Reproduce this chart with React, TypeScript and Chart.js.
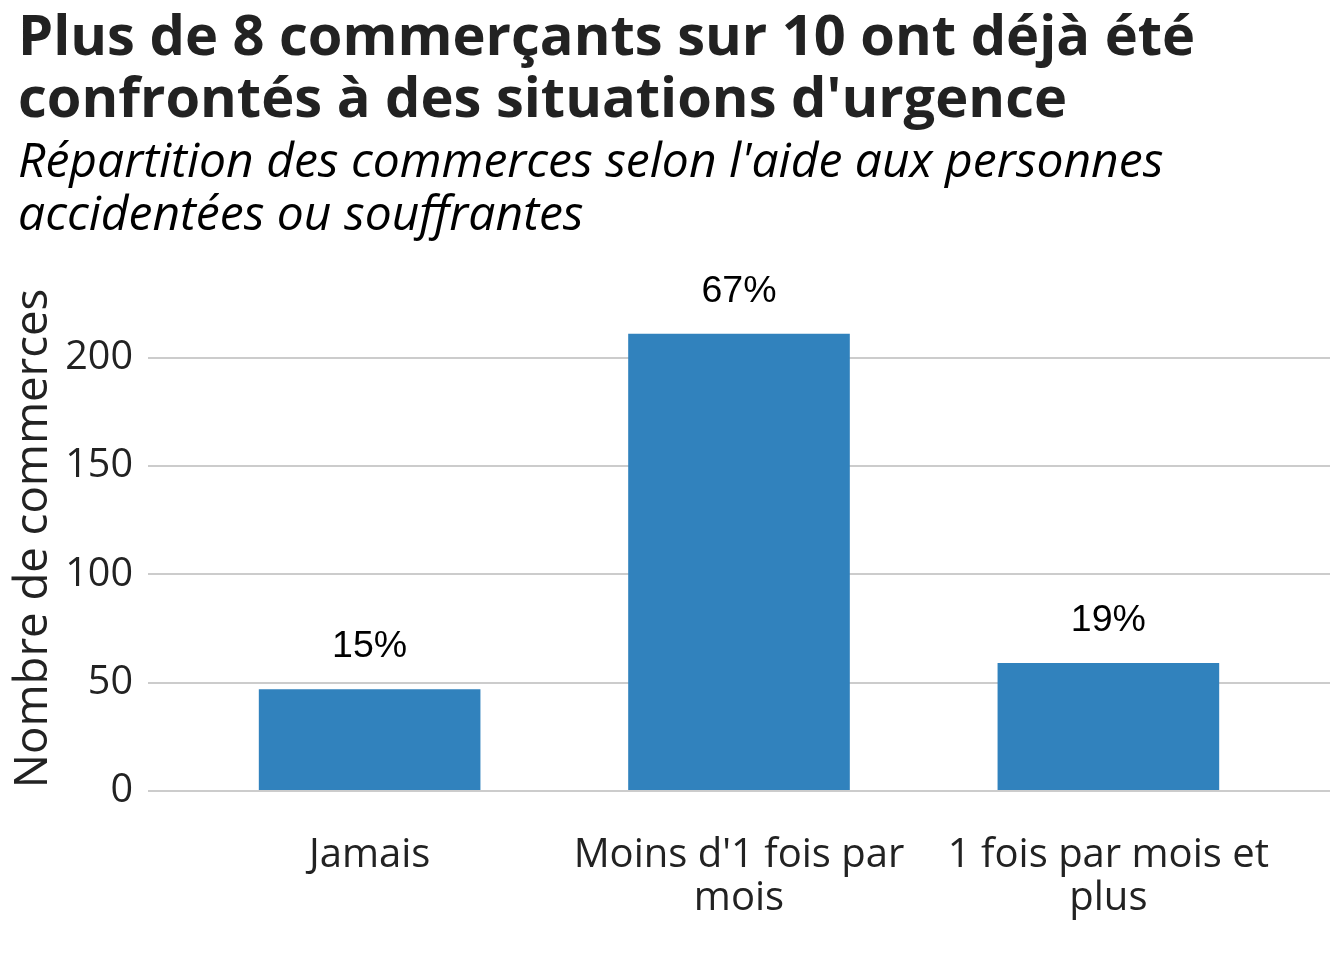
import React, { useEffect, useRef } from "react";
import { Chart, registerables } from "chart.js";

Chart.register(...registerables);

const titleLines = ["Plus de 8 commerçants sur 10 ont déjà été", "confrontés à des situations d'urgence"];
const subtitleLines = ["Répartition des commerces selon l'aide aux personnes", "accidentées ou souffrantes"];
const yAxisTitle = "Nombre de commerces";
const categories: string[][] = [["Jamais"], ["Moins d'1 fois par", "mois"], ["1 fois par mois et", "plus"]];
const xPositions = [1, 2, 3];
const values = [47, 211, 59];
const yTicks = [0, 50, 100, 150, 200];

const TEXT = "#222222";
const FAMILY = "'Open Sans', 'DejaVu Sans', sans-serif";

export default function App() {
  const ref = useRef<HTMLCanvasElement | null>(null);

  useEffect(() => {
    if (!ref.current) return;
    const total = values.reduce((a, b) => a + b, 0);
    const labelPlugin = {
      id: "barLabels",
      afterDatasetsDraw(chart: any) {
        const ctx = chart.ctx;
        const meta = chart.getDatasetMeta(0);
        ctx.save();
        ctx.font = "37.5px 'Liberation Sans', Arial, sans-serif";
        ctx.fillStyle = "#000000";
        ctx.textAlign = "center";
        ctx.textBaseline = "alphabetic";
        meta.data.forEach((bar: any, i: number) => {
          ctx.fillText(Math.round((values[i] / total) * 100) + "%", bar.x, bar.y - 32);
        });
        ctx.restore();
      },
    };

    const chart = new Chart(ref.current, {
      type: "bar",
      data: {
        datasets: [
          {
            data: values.map((v, i) => ({ x: xPositions[i], y: v })),
            backgroundColor: "#3182BD",
            borderWidth: 0,
            barPercentage: 0.6,
            categoryPercentage: 1,
          },
        ],
      },
      options: {
        animation: false,
        responsive: false,
        layout: { padding: { top: 286, right: 14, left: 0, bottom: 0 } },
        plugins: { legend: { display: false }, tooltip: { enabled: false } },
        scales: {
          x: {
            type: "linear",
            min: 0.4,
            max: 3.6,
            offset: false,
            afterBuildTicks: (s: any) => {
              s.ticks = xPositions.map((v) => ({ value: v }));
            },
            afterFit: (s: any) => {
              s.height = 169;
            },
            grid: { display: false, offset: false },
            border: { display: false },
            ticks: {
              autoSkip: false,
              maxRotation: 0,
              padding: 35,
              color: TEXT,
              font: { family: FAMILY, size: 40, lineHeight: 1.075 },
              callback: (_v: any, index: number) => categories[index] ?? "",
            },
          },
          y: {
            min: 0,
            max: 233,
            afterBuildTicks: (s: any) => {
              s.ticks = yTicks.map((v) => ({ value: v }));
            },
            afterFit: (s: any) => {
              s.width = 148;
            },
            grid: { color: "#cccccc", lineWidth: 2, drawTicks: false },
            border: { display: false },
            ticks: {
              padding: 15,
              color: TEXT,
              font: { family: FAMILY, size: 39.5 },
            },
            title: {
              display: true,
              text: yAxisTitle,
              color: TEXT,
              font: { family: FAMILY, size: 45.5, lineHeight: 1.2 },
              padding: { top: 7, bottom: 0 },
            },
          },
        },
      },
      plugins: [labelPlugin],
    } as any);
    return () => chart.destroy();
  }, []);

  return (
    <div style={{ position: "absolute", left: 0, top: 0, width: 1344, height: 960, background: "#ffffff" }}>
      <canvas ref={ref} width={1344} height={960} style={{ position: "absolute", left: 0, top: 0, width: 1344, height: 960 }} />
      <div
        style={{
          position: "absolute",
          left: 18,
          top: 2,
          fontFamily: FAMILY,
          fontWeight: 700,
          fontSize: 56,
          lineHeight: "62px",
          color: TEXT,
          whiteSpace: "nowrap",
        }}
      >
        {titleLines.map((l, i) => (
          <div key={i}>{l}</div>
        ))}
      </div>
      <div
        style={{
          position: "absolute",
          left: 18,
          top: 132,
          fontFamily: FAMILY,
          fontStyle: "italic",
          fontSize: 48,
          lineHeight: "53px",
          color: "#000000",
          whiteSpace: "nowrap",
        }}
      >
        {subtitleLines.map((l, i) => (
          <div key={i}>{l}</div>
        ))}
      </div>
    </div>
  );
}
